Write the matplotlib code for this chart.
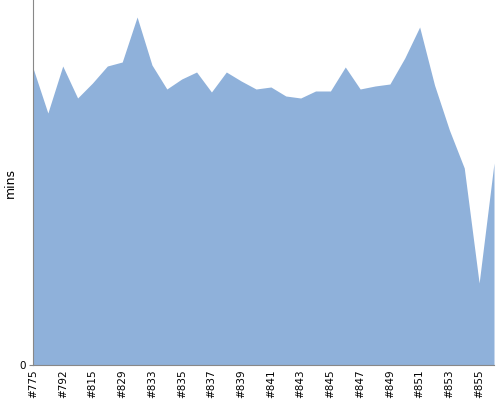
import matplotlib.pyplot as plt

# build numbers shown on the x axis (every second build is labelled)
labels = ['#775', '#792', '#815', '#829', '#833', '#835', '#837', '#839',
          '#841', '#843', '#845', '#847', '#849', '#851', '#853', '#855']

# build duration in minutes, one value per build
mins = [29.7, 25.2, 29.9, 26.7, 28.2, 29.9, 30.3, 34.8, 30.0, 27.6,
        28.6, 29.3, 27.3, 29.3, 28.4, 27.6, 27.8, 26.9, 26.7, 27.4,
        27.4, 29.8, 27.6, 27.9, 28.1, 30.7, 33.8, 28.0, 23.5, 19.7,
        8.2, 20.2]

x = list(range(len(mins)))

fig = plt.figure(figsize=(5, 4), dpi=100)
ax = fig.add_axes([0.066, 0.0875, 0.922, 0.9125])

ax.fill_between(x, mins, 0, color='#8fb1da', linewidth=0)

ax.set_xlim(0, len(mins) - 1)
ax.set_ylim(0, 36.5)

ax.set_xticks(x[::2])
ax.set_xticklabels(labels, rotation=90, fontsize=7.5)
ax.tick_params(axis='x', length=0, pad=3)
ax.set_yticks([0])
ax.tick_params(axis='y', length=3, color='#888888', labelsize=7.5, pad=2)
ax.set_ylabel('mins', fontsize=9)
ax.yaxis.set_label_coords(-0.035, 0.5)

for side in ['top', 'right']:
    ax.spines[side].set_visible(False)
for side in ['left', 'bottom']:
    ax.spines[side].set_color('#888888')

fig.savefig('out.png', dpi=100)
